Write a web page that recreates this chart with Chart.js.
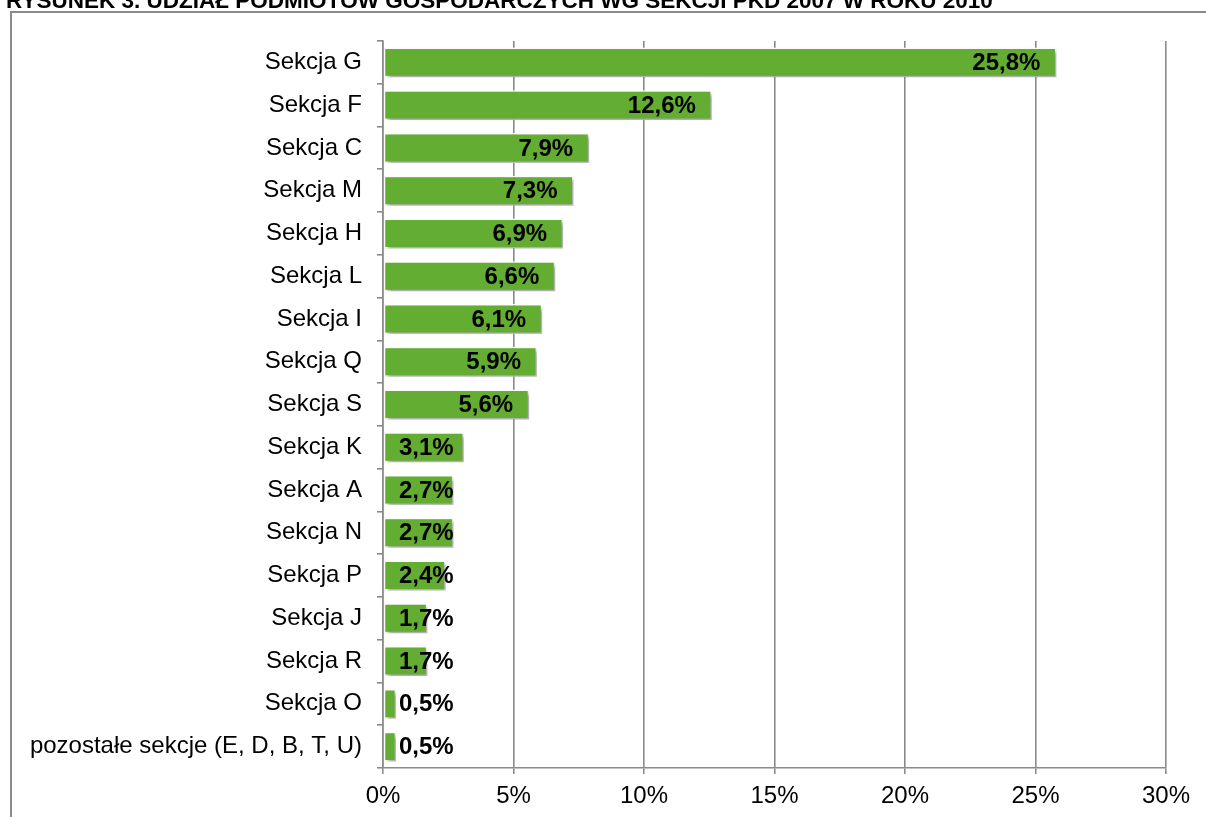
<!DOCTYPE html>
<html>
<head>
<meta charset="utf-8">
<script src="https://cdn.jsdelivr.net/npm/chart.js@4/dist/chart.umd.min.js"></script>
<style>
html,body{margin:0;padding:0;background:#fff;overflow:hidden;}
#wrap{position:absolute;left:0;top:0;width:1206px;height:817px;}
</style>
</head>
<body>
<div id="wrap"><canvas id="c" width="1206" height="817"></canvas></div>
<script>
const titleText = "RYSUNEK 3. UDZIAŁ PODMIOTÓW GOSPODARCZYCH WG SEKCJI PKD 2007 W ROKU 2010";
const categories = ["Sekcja G","Sekcja F","Sekcja C","Sekcja M","Sekcja H","Sekcja L","Sekcja I","Sekcja Q","Sekcja S","Sekcja K","Sekcja A","Sekcja N","Sekcja P","Sekcja J","Sekcja R","Sekcja O","pozostałe sekcje (E, D, B, T, U)"];
const shares = [25.8,12.6,7.9,7.3,6.9,6.6,6.1,5.9,5.6,3.1,2.7,2.7,2.4,1.7,1.7,0.5,0.5];
const xTicks = [0,5,10,15,20,25,30];

const FONT = "'Liberation Sans', Arial, sans-serif";

const framePlugin = {
  id: 'frame',
  beforeDraw(chart){
    const ctx = chart.ctx;
    ctx.save();
    ctx.fillStyle = '#000';
    ctx.font = "bold 22.5px " + FONT;
    ctx.textBaseline = 'alphabetic';
    ctx.textAlign = 'left';
    ctx.fillText(titleText, 6, 8);
    ctx.strokeStyle = '#8a8a8a';
    ctx.lineWidth = 2;
    ctx.beginPath();
    ctx.moveTo(11, 817);
    ctx.lineTo(11, 12);
    ctx.lineTo(1206, 12);
    ctx.stroke();
    ctx.restore();
  }
};

const shadowPlugin = {
  id: 'barShadow',
  beforeDatasetDraw(chart){
    const ctx = chart.ctx;
    ctx.save();
    ctx.shadowColor = 'rgba(0,0,0,0.35)';
    ctx.shadowBlur = 4;
    ctx.shadowOffsetX = 3;
    ctx.shadowOffsetY = 3;
  },
  afterDatasetDraw(chart){
    chart.ctx.restore();
  }
};

const labelPlugin = {
  id: 'valLabels',
  afterDatasetsDraw(chart){
    const ctx = chart.ctx;
    const meta = chart.getDatasetMeta(0);
    const xs = chart.scales.x;
    const minLeft = xs.getPixelForValue(0) + 16;
    ctx.save();
    ctx.font = "bold 24px " + FONT;
    ctx.fillStyle = '#000';
    ctx.textBaseline = 'middle';
    ctx.textAlign = 'left';
    meta.data.forEach((bar, i) => {
      const txt = shares[i].toFixed(1).replace('.', ',') + '%';
      const w = ctx.measureText(txt).width;
      let left = bar.x - 16 - w;
      if (left < minLeft) left = minLeft;
      ctx.fillText(txt, left, bar.y + 1);
    });
    ctx.restore();
  }
};

new Chart(document.getElementById('c'), {
  type: 'bar',
  data: {
    labels: categories,
    datasets: [{
      data: shares,
      backgroundColor: '#63ad32',
      borderColor: '#ffffff',
      borderWidth: 1.5,
      borderSkipped: false,
      categoryPercentage: 1.0,
      barPercentage: 0.7
    }]
  },
  options: {
    indexAxis: 'y',
    responsive: false,
    animation: false,
    devicePixelRatio: 1,
    layout: { padding: { left: 0, top: 41, right: 40, bottom: 0 } },
    plugins: { legend: { display: false }, tooltip: { enabled: false }, title: { display: false } },
    scales: {
      x: {
        min: 0, max: 30,
        afterBuildTicks(scale){ scale.ticks = xTicks.map(v => ({ value: v })); },
        afterFit(scale){ scale.height = 49; },
        ticks: {
          callback: (v) => v + '%',
          font: { family: FONT, size: 24 },
          color: '#000',
          padding: 8,
          maxRotation: 0
        },
        grid: {
          color: '#8a8a8a',
          lineWidth: 1.6,
          tickLength: 6,
          drawOnChartArea: true
        },
        border: { color: '#8a8a8a', width: 1.6 }
      },
      y: {
        afterFit(scale){ scale.width = 383; },
        ticks: {
          font: { family: FONT, size: 24 },
          color: '#000',
          padding: 15,
          autoSkip: false
        },
        grid: {
          offset: true,
          drawOnChartArea: false,
          color: '#8a8a8a',
          lineWidth: 1.6,
          tickLength: 6
        },
        border: { color: '#8a8a8a', width: 1.6 }
      }
    }
  },
  plugins: [framePlugin, shadowPlugin, labelPlugin]
});
</script>
</body>
</html>
